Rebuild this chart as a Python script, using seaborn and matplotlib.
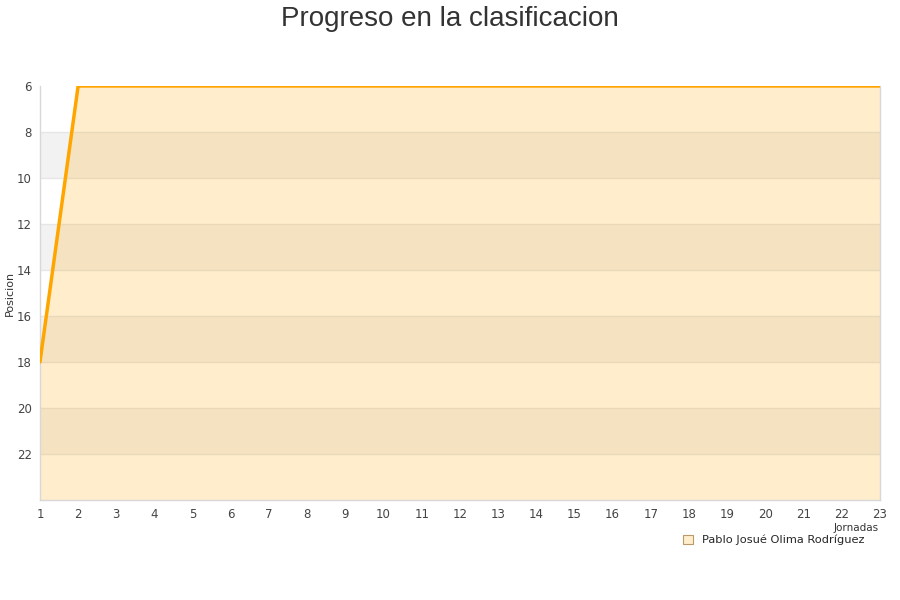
import numpy as np
import pandas as pd
import matplotlib
matplotlib.use('Agg')
import matplotlib.pyplot as plt
import seaborn as sns
from matplotlib.patches import Patch

# datos
jornadas = list(range(1, 24))
posiciones = [18] + [6] * 22
jugador = 'Pablo Josué Olima Rodríguez'
yticks = [6, 8, 10, 12, 14, 16, 18, 20, 22]

df = pd.DataFrame({'jornada': jornadas, 'posicion': posiciones})

sns.set_style('white')
plt.rcParams['font.family'] = ['DejaVu Sans']

fig = plt.figure(figsize=(9, 6), dpi=100)
ax = fig.add_axes([0.0444, 0.1667, 0.9333, 0.69])

# bandas alternas del fondo
for y0 in range(8, 24, 4):
    ax.axhspan(y0, y0 + 2, color='#f2f2f2', zorder=0, lw=0)
for y in yticks[1:]:
    ax.axhline(y, color='#e6e6e6', lw=1, zorder=0.5)

ax.fill_between(df['jornada'], df['posicion'], 24, color='#ffa500', alpha=0.2, lw=0, zorder=1)
sns.lineplot(data=df, x='jornada', y='posicion', ax=ax, color='#ffa500', lw=2.5, zorder=3)

ax.set_xlim(1, 23)
ax.set_ylim(24, 6)
ax.set_xticks(jornadas)
ax.set_yticks(yticks)
ax.tick_params(axis='both', labelsize=8.5, colors='#444444', length=0)
ax.tick_params(axis='x', pad=6)
ax.tick_params(axis='y', pad=6)
ax.set_ylabel('Posicion', fontsize=8, color='#333333')
ax.yaxis.set_label_coords(-0.03, 0.5)
ax.set_xlabel('Jornadas', fontsize=7.5, color='#333333')
ax.xaxis.set_label_coords(0.998, -0.055)
ax.xaxis.label.set_horizontalalignment('right')

for s in ['left', 'bottom', 'right']:
    ax.spines[s].set_color('#d8d8d8')
    ax.spines[s].set_linewidth(1)
ax.spines['top'].set_visible(False)

fig.suptitle('Progreso en la clasificacion', fontsize=20, color='#333333', y=0.99,
             family=['Liberation Sans', 'DejaVu Sans'])

handle = Patch(facecolor='#ffedcc', edgecolor='#b89a6a', lw=0.8)
leg = fig.legend([handle], [jugador], loc='center', bbox_to_anchor=(0.86, 0.1),
                 frameon=False, fontsize=8.2, handlelength=0.9, handleheight=0.9,
                 borderpad=0.3, handletextpad=0.8)

fig.savefig('out.png', dpi=100)
